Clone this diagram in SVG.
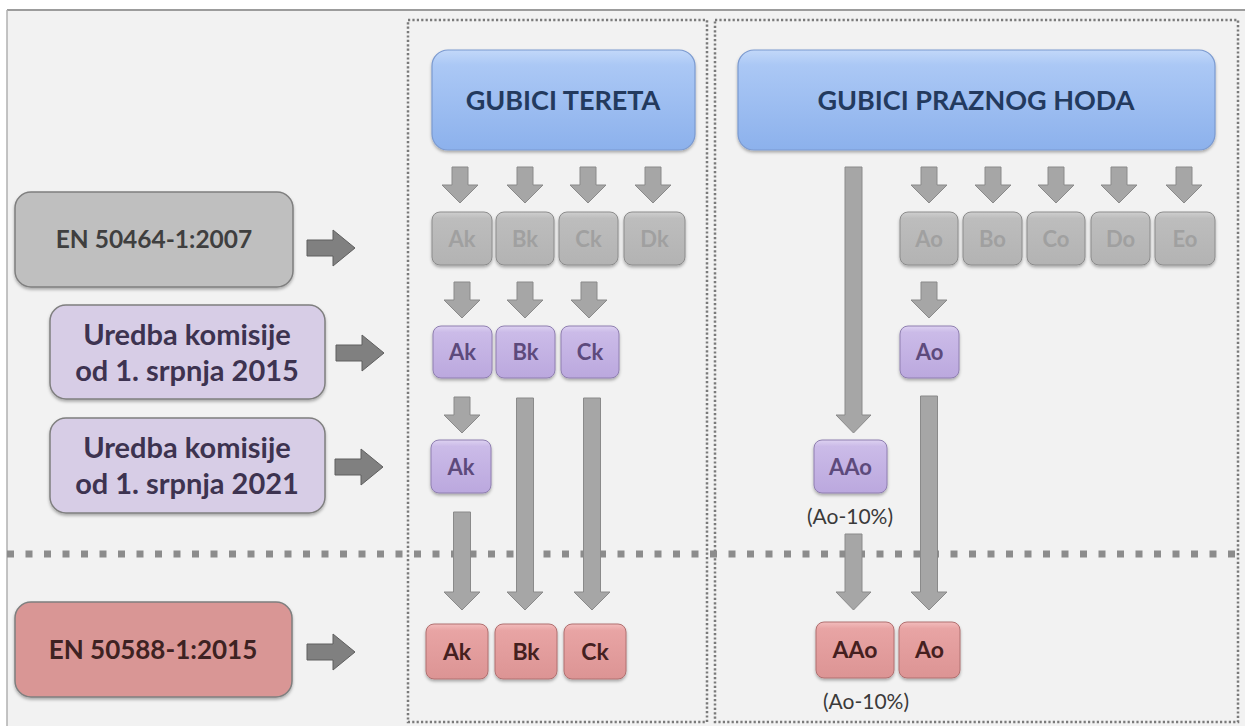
<svg xmlns="http://www.w3.org/2000/svg" width="1245" height="726" viewBox="0 0 1245 726">
<defs>
<style>
.big{stroke:#7f7f7f;stroke-width:1.5;filter:url(#sh)}
.t{font-family:Lato,"Open Sans","Liberation Sans",sans-serif;font-weight:bold;text-anchor:middle}
.lbl{font-family:Lato,"Open Sans","Liberation Sans",sans-serif;text-anchor:middle;fill:#3a3a3a;font-size:21px}
.sg{fill:url(#gGray);stroke:#8c8c8c;stroke-width:1;filter:url(#sh)}
.sp{fill:url(#gPur);stroke:#8f7fb0;stroke-width:1;filter:url(#sh)}
.sr{fill:url(#gRed);stroke:#b07070;stroke-width:1;filter:url(#sh)}
.ar{fill:#a6a6a6;stroke:#8a8a8a;stroke-width:1}
.ra{fill:#808080;stroke:#5f5f5f;stroke-width:1}
.frame{fill:none;stroke:#7a7a7a;stroke-width:2.5;stroke-dasharray:2.2 2.2}
</style>
<filter id="sh" x="-20%" y="-20%" width="140%" height="150%">
<feDropShadow dx="0" dy="2" stdDeviation="1.8" flood-color="#000" flood-opacity="0.3"/>
</filter>
<linearGradient id="gHead" x1="0" y1="0" x2="0" y2="1">
<stop offset="0" stop-color="#c2d8f9"/>
<stop offset="0.15" stop-color="#abc8f5"/>
<stop offset="1" stop-color="#8cb1ec"/>
</linearGradient>
<linearGradient id="gGray" x1="0" y1="0" x2="0" y2="1">
<stop offset="0" stop-color="#cfcfcf"/>
<stop offset="0.12" stop-color="#bdbdbd"/>
<stop offset="1" stop-color="#b3b3b3"/>
</linearGradient>
<linearGradient id="gPur" x1="0" y1="0" x2="0" y2="1">
<stop offset="0" stop-color="#ddd2f1"/>
<stop offset="0.12" stop-color="#cbbbe8"/>
<stop offset="1" stop-color="#bba8de"/>
</linearGradient>
<linearGradient id="gRed" x1="0" y1="0" x2="0" y2="1">
<stop offset="0" stop-color="#f2bcbc"/>
<stop offset="0.12" stop-color="#e8a4a4"/>
<stop offset="1" stop-color="#dc9494"/>
</linearGradient>
<path id="rArrow" d="M0 -8 H26 V-18 L48 0 L26 18 V8 H0 Z"/>
<path id="dArrow" d="M-8 0 H8 V18 H18 L0 36 L-18 18 H-8 Z"/>
</defs>

<rect x="0" y="0" width="1245" height="726" fill="#ffffff"/>
<rect x="7" y="10" width="1238" height="716" fill="#f2f2f2"/>
<line x1="7" y1="10" x2="1245" y2="10" stroke="#9c9c9c" stroke-width="2"/>
<line x1="7" y1="10" x2="7" y2="726" stroke="#b0b0b0" stroke-width="1.5"/>

<g id="frames">
<rect class="frame" x="408" y="20" width="299" height="702"/>
<rect class="frame" x="715" y="20" width="523" height="702"/>
<line x1="7" y1="554" x2="1240" y2="554" stroke="#8c8c8c" stroke-width="7" stroke-dasharray="7 11.5"/>
</g>

<g id="connectors">
<use href="#rArrow" x="307" y="248" class="ra"/>
<use href="#rArrow" x="336" y="353" class="ra"/>
<use href="#rArrow" x="335" y="467" class="ra"/>
<use href="#rArrow" x="307" y="652" class="ra"/>

<use href="#dArrow" x="460" y="167" class="ar"/>
<use href="#dArrow" x="525" y="167" class="ar"/>
<use href="#dArrow" x="588" y="167" class="ar"/>
<use href="#dArrow" x="653" y="167" class="ar"/>
<use href="#dArrow" x="929" y="167" class="ar"/>
<use href="#dArrow" x="993" y="167" class="ar"/>
<use href="#dArrow" x="1056" y="167" class="ar"/>
<use href="#dArrow" x="1119" y="167" class="ar"/>
<use href="#dArrow" x="1184" y="167" class="ar"/>

<use href="#dArrow" x="462" y="282" class="ar"/>
<use href="#dArrow" x="525" y="282" class="ar"/>
<use href="#dArrow" x="589" y="282" class="ar"/>
<use href="#dArrow" x="929" y="282" class="ar"/>

<use href="#dArrow" x="462" y="397" class="ar"/>

<path class="ar" d="M516.5 398 H533.5 V592 H543 L525 610 L507 592 H516.5 Z"/>
<path class="ar" d="M583.5 398 H600.5 V592 H610 L592 610 L574 592 H583.5 Z"/>
<path class="ar" d="M453.5 512 H470.5 V592 H480 L462 610 L444 592 H453.5 Z"/>
<path class="ar" d="M845 167 H862 V415 H871 L853.5 433 L836 415 H845 Z"/>
<path class="ar" d="M920.5 396 H937.5 V592 H947 L929 610 L911 592 H920.5 Z"/>
<path class="ar" d="M845 534 H862 V592 H871 L853.5 610 L836 592 H845 Z"/>
</g>

<g id="n-en50464">
<rect class="big" x="15" y="192" width="278" height="95" rx="16" fill="#bfbfbf"/>
<text class="t" x="154" y="248" font-size="24.5" fill="#3f3f3f">EN 50464-1:2007</text>
</g>
<g id="n-uredba2015">
<rect class="big" x="50" y="305" width="275" height="94" rx="16" fill="#d7cde6"/>
<text class="t" x="187" y="345" font-size="29" fill="#3d3350">Uredba komisije</text>
<text class="t" x="187" y="381" font-size="29" fill="#3d3350">od 1. srpnja 2015</text>
</g>
<g id="n-uredba2021">
<rect class="big" x="50" y="418" width="275" height="95" rx="16" fill="#d7cde6"/>
<text class="t" x="187" y="458" font-size="29" fill="#3d3350">Uredba komisije</text>
<text class="t" x="187" y="494" font-size="29" fill="#3d3350">od 1. srpnja 2021</text>
</g>
<g id="n-en50588">
<rect class="big" x="15" y="602" width="277" height="95" rx="16" fill="#d99695"/>
<text class="t" x="153" y="659" font-size="26" fill="#3e2222">EN 50588-1:2015</text>
</g>

<g id="n-gubici-tereta">
<rect x="432" y="50" width="263" height="100" rx="16" fill="url(#gHead)" stroke="#7b9ad0" stroke-width="1.2" filter="url(#sh)"/>
<text class="t" x="563" y="110" font-size="27" fill="#233a5e">GUBICI TERETA</text>
</g>
<g id="n-gubici-praznog">
<rect x="738" y="50" width="477" height="100" rx="16" fill="url(#gHead)" stroke="#7b9ad0" stroke-width="1.2" filter="url(#sh)"/>
<text class="t" x="976" y="110" font-size="27" fill="#233a5e">GUBICI PRAZNOG HODA</text>
</g>

<g id="n-ak-gray"><rect class="sg" x="432" y="212" width="60" height="53" rx="8"/><text class="t" x="462" y="247" font-size="22" fill="#a0a0a0">Ak</text></g>
<g id="n-bk-gray"><rect class="sg" x="496" y="212" width="58" height="53" rx="8"/><text class="t" x="525" y="247" font-size="22" fill="#a0a0a0">Bk</text></g>
<g id="n-ck-gray"><rect class="sg" x="559" y="212" width="59" height="53" rx="8"/><text class="t" x="588.5" y="247" font-size="22" fill="#a0a0a0">Ck</text></g>
<g id="n-dk-gray"><rect class="sg" x="624" y="212" width="61" height="53" rx="8"/><text class="t" x="654.5" y="247" font-size="22" fill="#a0a0a0">Dk</text></g>

<g id="n-ao-gray"><rect class="sg" x="900" y="212" width="58" height="53" rx="8"/><text class="t" x="929" y="247" font-size="22" fill="#a0a0a0">Ao</text></g>
<g id="n-bo-gray"><rect class="sg" x="963" y="212" width="59" height="53" rx="8"/><text class="t" x="992.5" y="247" font-size="22" fill="#a0a0a0">Bo</text></g>
<g id="n-co-gray"><rect class="sg" x="1027" y="212" width="58" height="53" rx="8"/><text class="t" x="1056" y="247" font-size="22" fill="#a0a0a0">Co</text></g>
<g id="n-do-gray"><rect class="sg" x="1091" y="212" width="59" height="53" rx="8"/><text class="t" x="1120.5" y="247" font-size="22" fill="#a0a0a0">Do</text></g>
<g id="n-eo-gray"><rect class="sg" x="1155" y="212" width="60" height="53" rx="8"/><text class="t" x="1185" y="247" font-size="22" fill="#a0a0a0">Eo</text></g>

<g id="n-ak-2015"><rect class="sp" x="433" y="326" width="59" height="52" rx="8"/><text class="t" x="462.5" y="360" font-size="22" fill="#5d4a7c">Ak</text></g>
<g id="n-bk-2015"><rect class="sp" x="496" y="326" width="59" height="52" rx="8"/><text class="t" x="525.5" y="360" font-size="22" fill="#5d4a7c">Bk</text></g>
<g id="n-ck-2015"><rect class="sp" x="561" y="326" width="58" height="52" rx="8"/><text class="t" x="590" y="360" font-size="22" fill="#5d4a7c">Ck</text></g>
<g id="n-ao-2015"><rect class="sp" x="900" y="326" width="59" height="52" rx="8"/><text class="t" x="929.5" y="360" font-size="22" fill="#5d4a7c">Ao</text></g>

<g id="n-ak-2021"><rect class="sp" x="431" y="440" width="60" height="53" rx="8"/><text class="t" x="461" y="475" font-size="22" fill="#5d4a7c">Ak</text></g>
<g id="n-aao-2021"><rect class="sp" x="814" y="440" width="73" height="53" rx="8"/><text class="t" x="850.5" y="475" font-size="22" fill="#5d4a7c">AAo</text></g>
<text class="lbl" x="850" y="524">(Ao-10%)</text>

<g id="n-ak-red"><rect class="sr" x="426" y="624" width="62" height="55" rx="8"/><text class="t" x="457" y="660" font-size="23" fill="#452020">Ak</text></g>
<g id="n-bk-red"><rect class="sr" x="495" y="624" width="62" height="55" rx="8"/><text class="t" x="526" y="660" font-size="23" fill="#452020">Bk</text></g>
<g id="n-ck-red"><rect class="sr" x="564" y="624" width="62" height="55" rx="8"/><text class="t" x="595" y="660" font-size="23" fill="#452020">Ck</text></g>
<g id="n-aao-red"><rect class="sr" x="816" y="622" width="78" height="56" rx="8"/><text class="t" x="855" y="658" font-size="23" fill="#452020">AAo</text></g>
<g id="n-ao-red"><rect class="sr" x="899" y="622" width="61" height="56" rx="8"/><text class="t" x="929.5" y="658" font-size="23" fill="#452020">Ao</text></g>
<text class="lbl" x="866" y="709">(Ao-10%)</text>
</svg>
